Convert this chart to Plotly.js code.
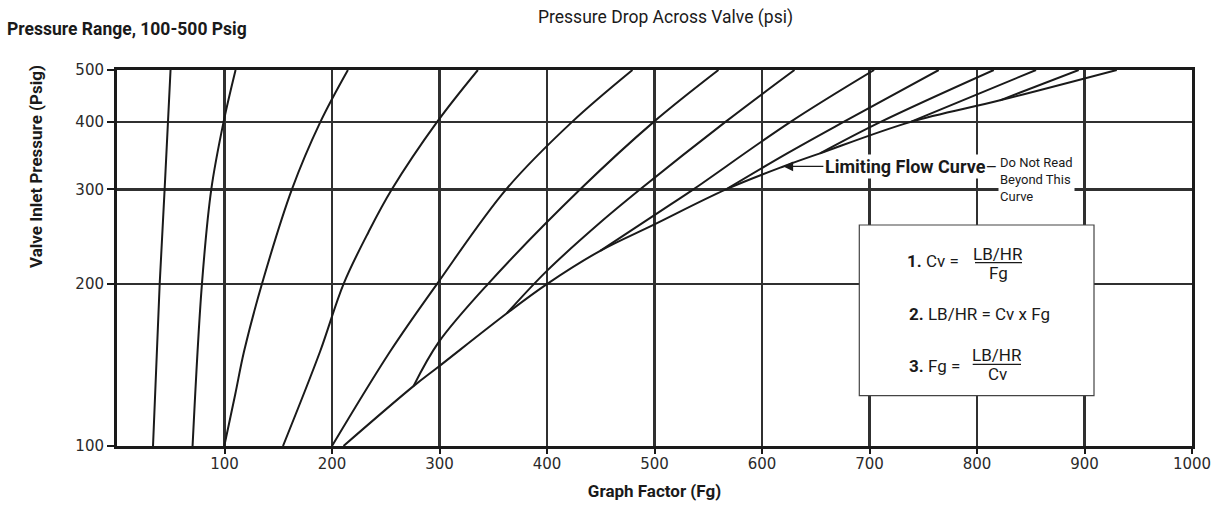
<!DOCTYPE html>
<html><head><meta charset="utf-8">
<script src="https://cdn.plot.ly/plotly-3.0.1.min.js"></script>
<style>html,body{margin:0;padding:0;background:#fff}#chart{width:1227px;height:508px}</style>
</head><body><div id="chart"></div>
<script>
// ---- data ----
const pressureTicks = [100, 200, 300, 400, 500];
const graphFactorTicks = [100, 200, 300, 400, 500, 600, 700, 800, 900, 1000];
const dropLabels = ["1", "5", "10", "25", "50", "75", "100", "125", "150", "175", "200", "225", "250"];
const dropTopFg = [49.8, 110.3, 214.8, 335.7, 479.5, 559.5, 630.2, 704.3, 764.4, 815.6, 854.9, 894.6, 930];

const dp1_fg = [49.8, 47.4, 44.3, 39.7, 33.5];
const dp1_p = [500, 400, 300, 200, 100];
const dp5_fg = [110.3, 99.1, 87.7, 79.0, 70.3];
const dp5_p = [500, 400, 300, 200, 100];
const dp10_fg = [214.8, 189.1, 162.7, 134.8, 118.2, 110.0, 99.8];
const dp10_p = [500, 400, 300, 200, 150, 124.8, 100];
const dp25_fg = [335.7, 297.6, 255.7, 234, 210.7, 189, 154.4];
const dp25_p = [500, 400, 300, 250, 200, 150, 100];
const dp50_fg = [479.5, 423.1, 362.0, 297.6, 254.2, 200];
const dp50_p = [500, 400, 300, 200, 150, 100];
const dp75_fg = [559.5, 499.0, 430.9, 345.0, 299.1, 275.8];
const dp75_p = [500, 400, 300, 200, 155.8, 129.2];
const dp100_fg = [630.2, 565.7, 486.7, 449.5, 399.9, 362.7];
const dp100_p = [500, 400, 300, 260.2, 211.6, 176.5];
const dp125_fg = [704.3, 626.2, 536.2, 515.1, 449.5];
const dp125_p = [500, 400, 300, 281.3, 230.6];
const dp150_fg = [764.4, 675.5, 623.4, 566.6];
const dp150_p = [500, 400, 350, 300];
const dp175_fg = [815.6, 709.9, 654];
const dp175_p = [500, 400, 350];
const dp200_fg = [854.9, 799.6, 737.7];
const dp200_p = [500, 450, 400];
const dp225_fg = [894.6, 821.4];
const dp225_p = [500, 439.1];
const limit_fg = [930, 821.4, 737.7, 654, 619.9, 566.6, 499.0, 449.5, 399.9, 362.7, 299.1, 275.8, 210.7];
const limit_p = [500, 439.1, 400, 350, 330.9, 300, 257.7, 230.6, 200, 176.5, 140.4, 129.2, 100];

// ---- styling ----
const SANS = "Roboto, 'Liberation Sans', sans-serif";
const TICKF = "'DejaVu Sans', sans-serif";
const INK = '#1a1a1a';
const L = 117, R = 1192, T = 70, B = 446;
const pxX = p => (p - L) / (R - L);
const pxY = p => (B - p) / (B - T);

const curves = [
  [dp1_fg, dp1_p], [dp5_fg, dp5_p], [dp10_fg, dp10_p], [dp25_fg, dp25_p],
  [dp50_fg, dp50_p], [dp75_fg, dp75_p], [dp100_fg, dp100_p], [dp125_fg, dp125_p],
  [dp150_fg, dp150_p], [dp175_fg, dp175_p], [dp200_fg, dp200_p], [dp225_fg, dp225_p],
  [limit_fg, limit_p]
];
const traces = curves.map(c => ({
  type: 'scatter', mode: 'lines', x: c[0], y: c[1], xaxis: 'x', yaxis: 'y',
  line: {color: INK, width: 2, shape: 'spline', smoothing: 1}, hoverinfo: 'skip'
}));

const txt = (text, x, y, size, xanchor, extra) => Object.assign({
  text: text, xref: 'paper', yref: 'paper', x: pxX(x), y: pxY(y), showarrow: false,
  xanchor: xanchor || 'center', yanchor: 'middle',
  font: {family: SANS, size: size, color: INK}
}, extra || {});

const annotations = [
  txt('Pressure Drop Across Valve (psi)', 665, 18, 17.5),
  txt('<b>Valve Inlet Pressure (Psig)</b>', 36, 167, 17, 'center', {textangle: -90}),
  {text: '<b>Limiting Flow Curve</b>–', xref: 'x', yref: 'y', x: 619.9, y: Math.log10(330.9),
   showarrow: true, ax: 40, ay: 0, xanchor: 'left', yanchor: 'middle', arrowhead: 2, arrowsize: 1.5,
   arrowwidth: 1.3, arrowcolor: INK, bgcolor: '#fff', borderpad: 1,
   font: {family: SANS, size: 18, color: INK}},
  txt('Do Not Read<br>Beyond This<br>Curve', 998, 179.5, 13, 'left', {bgcolor: '#fff', align: 'left', borderpad: 1}),
  txt('<b>1.</b> Cv =', 961, 261, 17, 'right'),
  txt('LB/HR', 998, 254, 17),
  txt('Fg', 998, 273, 17),
  txt('<b>2.</b> LB/HR = Cv x Fg', 907, 313.5, 17, 'left'),
  txt('<b>3.</b> Fg =', 962, 365.5, 17, 'right'),
  txt('LB/HR', 997, 355, 17),
  txt('Cv', 997, 374, 17)
];

const shapes = [
  {type: 'rect', xref: 'paper', yref: 'paper', x0: pxX(859.3), x1: pxX(1094), y0: pxY(395.7), y1: pxY(225),
   fillcolor: '#fff', line: {color: '#444', width: 1.2}, layer: 'above'},
  {type: 'line', xref: 'paper', yref: 'paper', x0: pxX(975), x1: pxX(1022), y0: pxY(262.7), y1: pxY(262.7),
   line: {color: INK, width: 1.3}, layer: 'above'},
  {type: 'line', xref: 'paper', yref: 'paper', x0: pxX(972.7), x1: pxX(1021), y0: pxY(364.3), y1: pxY(364.3),
   line: {color: INK, width: 1.3}, layer: 'above'}
];

const layout = {
  width: 1227, height: 508,
  margin: {l: L, r: 1227 - R, t: T, b: 508 - B, pad: 0},
  paper_bgcolor: '#fff', plot_bgcolor: '#fff', showlegend: false,
  font: {family: SANS, color: INK},
  title: {text: '<b>Pressure Range, 100-500 Psig</b>', xref: 'container', yref: 'container',
          x: 7 / 1227, xanchor: 'left', y: 1 - 29 / 508, yanchor: 'middle',
          font: {family: SANS, size: 17.5, color: INK}},
  xaxis: {range: [0, 1000], tickmode: 'array', tickvals: graphFactorTicks, ticks: 'outside', ticklen: 5, tickwidth: 2,
          tickcolor: INK, showgrid: true, gridcolor: '#303030', gridwidth: 2.5, showline: true, linecolor: INK,
          linewidth: 3, mirror: true, zeroline: false, fixedrange: true, ticklabelstandoff: -3,
          tickfont: {family: TICKF, size: 15, color: '#2a2a2a'},
          title: {text: '<b>Graph Factor (Fg)</b>', font: {family: SANS, size: 17, color: INK}, standoff: 14}},
  xaxis2: {overlaying: 'x', side: 'top', anchor: 'y', range: [0, 1000], tickmode: 'array', tickvals: dropTopFg,
           ticktext: dropLabels, ticks: 'outside', ticklen: 6, tickwidth: 2, tickcolor: INK, showgrid: false,
           zeroline: false, showline: false, fixedrange: true, ticklabelstandoff: 2,
           tickfont: {family: TICKF, size: 15, color: '#2a2a2a'}},
  yaxis: {type: 'log', range: [2, Math.log10(500)], tickmode: 'array', tickvals: pressureTicks,
          ticktext: pressureTicks.map(String), ticks: 'outside', ticklen: 7, tickwidth: 2, tickcolor: INK,
          showgrid: true, gridcolor: '#303030', gridwidth: 2.5, showline: true, linecolor: INK, linewidth: 3,
          mirror: true, zeroline: false, fixedrange: true,
          tickfont: {family: TICKF, size: 15, color: '#2a2a2a'}},
  annotations: annotations,
  shapes: shapes
};

Plotly.newPlot('chart', traces, layout, {displayModeBar: false, staticPlot: true});
</script></body></html>
